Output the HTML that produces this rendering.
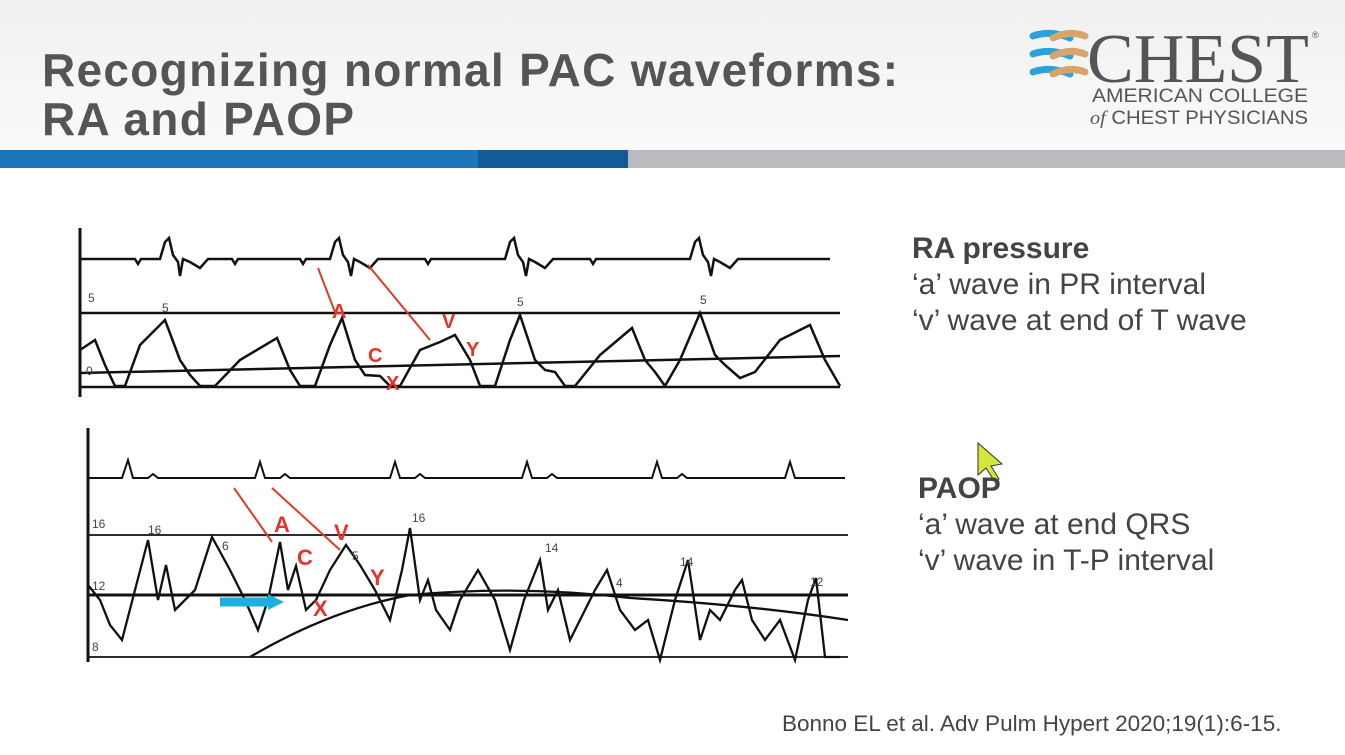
<!DOCTYPE html>
<html><head><meta charset="utf-8"><style>
body{margin:0;width:1345px;height:755px;overflow:hidden;background:#fff;font-family:"Liberation Sans",sans-serif;position:relative}
.top{position:absolute;left:0;top:0;width:1345px;height:150px;background:linear-gradient(#f0f0f0,#fafafa)}
h1{position:absolute;left:42px;top:46px;margin:0;font-size:46px;line-height:49px;font-weight:bold;color:#555;letter-spacing:1.3px}
.bar{position:absolute;top:150px;height:18px}
.t{position:absolute;font-size:30px;color:#444;line-height:36px}
</style></head><body>
<div class="top"></div>
<h1>Recognizing normal PAC waveforms:<br>RA and PAOP</h1>
<div class="bar" style="left:0;width:478px;background:#1b76bc"></div>
<div class="bar" style="left:478px;width:150px;background:#135b98"></div>
<div class="bar" style="left:628px;width:717px;background:#b9bcbf"></div>
<svg style="position:absolute;left:1025px;top:26px" width="310" height="104">
<g stroke-width="7" stroke-linecap="round" fill="none">
<path d="M8 10 Q25 4 45 12 M8 28 Q25 22 45 30 M8 46 Q25 40 45 48" stroke="#2aa3dc"/>
<path d="M28 12 Q45 4 60 10 M28 30 Q45 22 60 28 M28 48 Q45 40 60 46" stroke="#d9a46a"/>
</g>
<text x="62" y="56" font-family="Liberation Serif,serif" font-size="70" fill="#555" textLength="222" lengthAdjust="spacingAndGlyphs">CHEST</text>
<text x="287" y="12" font-size="9" fill="#555">®</text>
<text x="67" y="76" font-size="19" fill="#555" textLength="216" lengthAdjust="spacingAndGlyphs">AMERICAN COLLEGE</text>
<text x="65" y="98" font-size="19" fill="#555" textLength="218" lengthAdjust="spacingAndGlyphs"><tspan font-style="italic" font-family="Liberation Serif,serif">of</tspan> CHEST PHYSICIANS</text>
</svg>
<svg style="position:absolute;left:0;top:0" width="1345" height="755" fill="none" stroke="#111">
<path d="M80 228V397" stroke-width="3"/>
<path d="M80 313H840M80 387H840" stroke-width="2.5"/>
<path d="M80 373L840 356" stroke-width="2.5"/>
<path d="M80 259H135L138 264L141 259H160L165 242L169 238L173 255L178 262L180 276L183 259L190 262L200 268L208 259H232L235 264L238 259H300L303 264L306 259H330L335 242L339 238L343 255L348 262L351 276L354 259L360 262L370 268L378 259H425L428 264L431 259H505L510 242L514 238L518 255L523 262L526 276L529 259L535 262L545 268L553 259H590L593 264L596 259H690L695 242L699 238L703 255L708 262L711 276L714 259L720 262L730 268L738 259H830" stroke-width="2.5"/>
<path d="M80 350L95 340L105 365L115 386L125 386L140 345L165 320L180 360L190 375L200 386L215 386L240 360L277 338L290 370L300 386L315 386L330 345L342 318L355 360L365 375L380 376L390 386L400 386L420 350L440 342L455 335L470 360L480 386L495 386L510 340L520 315L535 360L545 370L555 372L565 386L575 386L600 355L632 328L645 360L655 372L665 386L680 360L700 313L715 355L725 365L740 378L755 372L780 340L810 325L825 360L840 386" stroke-width="2.5"/>
<g font-size="12" fill="#444" stroke="none"><text x="88" y="302">5</text><text x="162" y="312">5</text><text x="517" y="306">5</text><text x="700" y="304">5</text><text x="86" y="375">0</text></g>
<g stroke="#e03a2a" stroke-width="2"><path d="M318 268L335 312M368 265L430 340"/></g>
<g fill="#e8332a" stroke="none" font-size="20" font-weight="bold"><text x="332" y="318">A</text><text x="442" y="328">V</text><text x="368" y="362">C</text><text x="466" y="356">Y</text><text x="386" y="390">X</text></g>
<path d="M88 428V662" stroke-width="3"/>
<path d="M88 535H848M88 657H848" stroke-width="1.8"/>
<path d="M88 595H848" stroke-width="3"/>
<path d="M250 657Q330 610 410 595Q520 585 630 598Q750 605 848 620" stroke-width="2.3"/>
<path d="M88 478H122L128 460L133 478H148L153 474L158 478H255L260 462L265 478H280L285 474L290 478H390L395 462L400 478H415L420 474L425 478H522L527 462L532 478H547L552 474L557 478H652L657 462L662 478H677L682 474L687 478H785L790 462L795 478H845" stroke-width="2"/>
<path d="M88 585L100 600L110 625L122 640L135 590L148 540L158 600L166 565L175 610L185 600L195 590L212 537L230 570L245 600L258 630L268 600L280 542L288 590L296 566L306 610L316 600L330 570L346 545L360 565L375 590L390 620L402 570L410 528L420 600L428 580L436 610L450 630L460 600L478 570L495 600L510 650L524 600L540 560L548 610L558 590L570 640L580 620L595 590L607 570L620 610L635 630L648 620L660 660L675 600L688 560L700 640L710 610L720 620L735 590L742 580L752 620L765 640L780 620L795 660L808 600L816 578L825 657L840 657" stroke-width="2.3"/>
<g font-size="12" fill="#444" stroke="none"><text x="92" y="528">16</text><text x="148" y="534">16</text><text x="222" y="550">6</text><text x="352" y="560">5</text><text x="412" y="522">16</text><text x="545" y="552">14</text><text x="616" y="587">4</text><text x="680" y="566">14</text><text x="810" y="586">12</text><text x="92" y="590">12</text><text x="92" y="651">8</text></g>
<g stroke="#e03a2a" stroke-width="2"><path d="M234 488L272 542M272 488L340 550"/></g>
<g fill="#e8332a" stroke="none" font-size="22" font-weight="bold"><text x="274" y="532">A</text><text x="334" y="540">V</text><text x="297" y="565">C</text><text x="370" y="585">Y</text><text x="313" y="616">X</text></g>
<path d="M220 602H270" stroke="#1eaee0" stroke-width="9"/>
<path d="M268 594L284 602L268 610Z" fill="#1eaee0" stroke="none"/>
<path d="M978 443L978 475L986 468L995 482L999 479L991 466L1002 464Z" fill="#d4e63a" stroke="#333" stroke-width="1"/>
</svg>
<div class="t" style="left:912px;top:231px"><b>RA pressure</b><br>‘a’ wave in PR interval<br>‘v’ wave at end of T wave</div>
<div class="t" style="left:918px;top:471px"><b>PAOP</b><br>‘a’ wave at end QRS<br>‘v’ wave in T-P interval</div>
<div class="t" style="left:782px;top:709px;font-size:22.5px;line-height:30px">Bonno EL et al. Adv Pulm Hypert 2020;19(1):6-15.</div>
</body></html>
